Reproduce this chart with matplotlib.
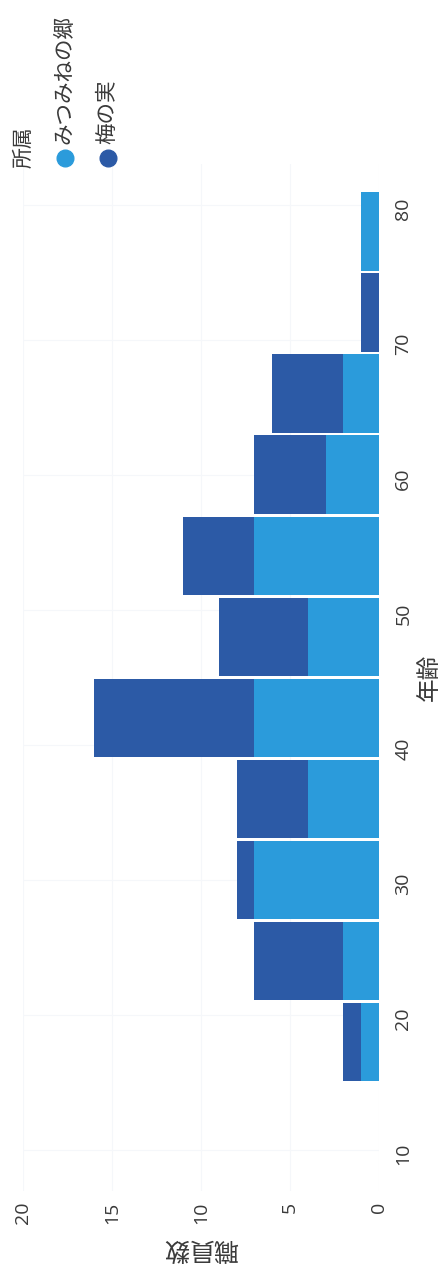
import matplotlib
matplotlib.use('Agg')
import matplotlib.pyplot as plt
from matplotlib.lines import Line2D
import numpy as np

plt.rcParams['font.family'] = ['Open Sans', 'Noto Sans CJK JP', 'DejaVu Sans']

# histogram bins (age) and counts per group
bin_edges = [15, 21, 27, 33, 39, 45, 51, 57, 63, 69, 75, 81]
mitsumine = [1, 2, 7, 4, 7, 4, 7, 3, 2, 0, 1]   # みつみねの郷
umenomi = [1, 5, 1, 4, 9, 5, 4, 4, 4, 1, 0]     # 梅の実
groups = ['みつみねの郷', '梅の実']
colors = ['#2B9BDB', '#2C5AA6']
count_ticks = [0, 5, 10, 15, 20]
age_ticks = [10, 20, 30, 40, 50, 60, 70, 80]
title = '所属ごとの年齢分布'

W, H = 446, 1268
txt = '#3a3a3a'
fig = plt.figure(figsize=(W / 100, H / 100), dpi=100)
ax = fig.add_axes([23 / W, 1 - 1190.5 / H, 356 / W, (1190.5 - 164) / H])

edges = np.array(bin_edges, dtype=float)
centers = (edges[:-1] + edges[1:]) / 2
widths = np.diff(edges) - 0.2
a = np.array(mitsumine)
b = np.array(umenomi)
ax.barh(centers, a, height=widths, color=colors[0], linewidth=0)
ax.barh(centers, b, height=widths, left=a, color=colors[1], linewidth=0)

ax.set_xlim(20, 0)
ax.set_ylim(7, 83)
ax.set_xticks(count_ticks)
ax.set_yticks(age_ticks)
ax.yaxis.tick_right()
ax.tick_params(axis='x', labelrotation=90, length=0, pad=8, labelsize=14, labelcolor=txt)
ax.tick_params(axis='y', labelrotation=90, length=0, pad=11, labelsize=14, labelcolor=txt)
ax.grid(True, color='#f5f7fa', lw=0.8)
ax.set_axisbelow(True)
for s in ax.spines.values():
    s.set_visible(False)

# axis titles, placed by hand (the whole page is turned a quarter turn)
fig.text(201 / W, 1 - 1248 / H, '職員数', rotation=180, ha='center', va='center',
         fontsize=18, color=txt)
fig.text(430 / W, 1 - 677 / H, '年齢', rotation=90, ha='center', va='center',
         fontsize=17, color=txt)

# legend drawn by hand, rotated like the rest of the page
fig.text(24 / W, 1 - 168 / H, '所属', rotation=90, ha='center', va='bottom',
         fontsize=15, color=txt)
for i, (name, c) in enumerate(zip(groups, colors)):
    x = (65 + 43 * i) / W
    fig.add_artist(Line2D([x], [1 - 158 / H], marker='o', markersize=12, color=c,
                          transform=fig.transFigure))
    fig.text(x, 1 - 144 / H, name, rotation=90, ha='center', va='bottom',
             fontsize=15.5, color=txt)

# title runs off the left edge of the scanned page
fig.text(-9 / W, 1 - 1256 / H, title, rotation=90, ha='center', va='bottom',
         fontsize=18, color=txt)

fig.savefig('out.png', dpi=100)
